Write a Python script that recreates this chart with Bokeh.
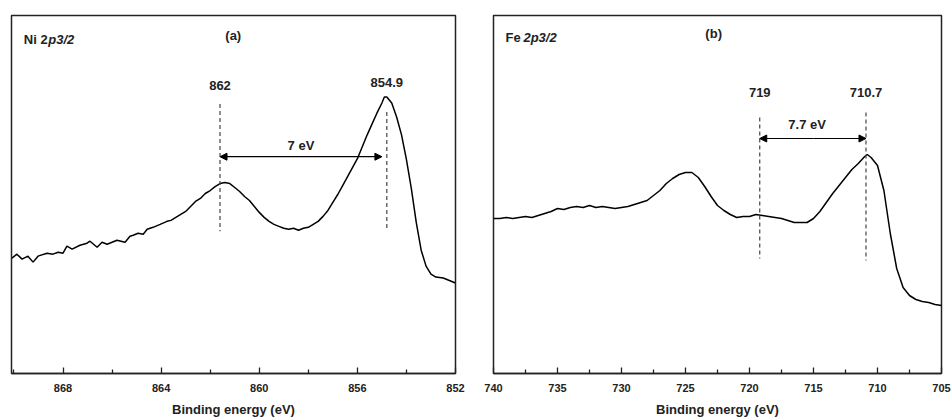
from bokeh.plotting import figure
from bokeh.layouts import row
from bokeh.models import Range1d, FixedTicker, Arrow, NormalHead
from bokeh.core.properties import value
from bokeh.embed import file_html
from bokeh.resources import INLINE

# ---------------- data: Ni 2p3/2 ----------------
ni_energy = [870.08, 869.88, 869.67, 869.43, 869.22, 869.02, 868.65, 868.41, 868.2, 868.0,
             867.84, 867.63, 867.31, 867.02, 866.9, 866.61, 866.41, 866.2, 865.8, 865.47,
             865.27, 865.14, 864.94, 864.73, 864.57, 864.33, 864.04, 863.76,
             863.6, 863.4, 863.2, 863.0, 862.8, 862.6, 862.4, 862.2, 862.0,
             861.8, 861.6, 861.4, 861.2, 861.0, 860.8, 860.6, 860.4, 860.2, 860.0,
             859.8, 859.6, 859.4, 859.2, 859.0, 858.8, 858.6, 858.4, 858.2, 858.0,
             857.8, 857.6, 857.4, 857.2, 857.0, 856.8, 856.6, 856.4, 856.2, 856.0,
             855.8, 855.6, 855.4, 855.2, 855.0, 854.9, 854.8, 854.6, 854.4, 854.2,
             854.0, 853.8, 853.6, 853.4, 853.2, 853.0, 852.8, 852.5, 852.2, 852.0]
ni_intensity = [116, 120, 115, 118, 112, 118, 121, 120, 122, 121,
                128, 125, 129, 131, 133, 127, 132, 130, 134, 132,
                138, 139, 141, 140, 145, 147, 150, 153,
                154, 157, 160, 163, 168, 173, 176, 181, 184,
                188, 191, 192, 191, 187, 183, 178, 174, 168, 162,
                157, 153, 150, 148, 146, 145, 146, 144, 146, 147,
                150, 153, 158, 164, 172, 180, 189, 198, 207, 216,
                228, 240, 251, 262, 272, 278, 278, 272, 258, 240,
                215, 186, 152, 124, 108, 100, 97, 96, 93, 91]

# ---------------- data: Fe 2p3/2 ----------------
fe_energy = [740, 739.5, 739, 738.5, 738, 737.5, 737, 736.5, 736, 735.5, 735,
             734.5, 734, 733.5, 733, 732.5, 732, 731.5, 731, 730.5, 730,
             729.5, 729, 728.5, 728, 727.5, 727, 726.5, 726, 725.5, 725,
             724.5, 724, 723.5, 723, 722.5, 722, 721.5, 721, 720.5, 720,
             719.5, 719, 718.5, 718, 717.5, 717, 716.5, 716, 715.5, 715,
             714.5, 714, 713.5, 713, 712.5, 712, 711.5, 711, 710.8, 710.5,
             710, 709.5, 709, 708.5, 708, 707.5, 707, 706.5, 706, 705.5, 705]
fe_intensity = [155, 155, 156, 155, 156, 157, 156, 158, 160, 162, 165,
                164, 166, 167, 166, 168, 166, 167, 166, 165, 166,
                167, 169, 171, 173, 178, 183, 190, 195, 199, 201,
                201, 196, 187, 177, 168, 163, 159, 156, 157, 157,
                159, 158, 157, 156, 155, 153, 151, 151, 151, 155,
                162, 171, 180, 188, 196, 204, 210, 217, 219, 216,
                208, 183, 140, 105, 86, 78, 74, 72, 71, 69, 68]

ni_ticks = [868, 864, 860, 856, 852]
ni_minor = [870, 866, 862, 858, 854]
fe_ticks = [740, 735, 730, 725, 720, 715, 710, 705]
fe_minor = [737.5, 732.5, 727.5, 722.5, 717.5, 712.5, 707.5]

ni_peaks = [861.6, 854.8]
ni_peak_labels = ["862", "854.9"]
fe_peaks = [719.2, 710.9]
fe_peak_labels = ["719", "710.7"]

FONT = value("Liberation Sans")
INK = "#222222"


def make_fig(xr, yr, width, left, right, top, ticks, minor):
    p = figure(width=width, height=419, x_range=xr, y_range=yr,
               output_backend="svg", toolbar_location=None,
               min_border_left=left, min_border_right=right,
               min_border_top=top, min_border_bottom=419 - 373)
    p.grid.visible = False
    p.yaxis.visible = False
    p.outline_line_color = INK
    p.outline_line_width = 1.5
    p.outline_line_alpha = 1
    ax = p.xaxis[0]
    ax.ticker = FixedTicker(ticks=ticks, minor_ticks=minor)
    ax.major_tick_in = 6
    ax.major_tick_out = 0
    ax.minor_tick_in = 4
    ax.minor_tick_out = 0
    ax.axis_line_color = INK
    ax.axis_line_width = 1.5
    ax.major_tick_line_color = INK
    ax.minor_tick_line_color = INK
    ax.major_tick_line_width = 1.3
    ax.minor_tick_line_width = 1.3
    ax.major_label_text_font = "Liberation Sans"
    ax.major_label_text_font_style = "bold"
    ax.major_label_text_font_size = "11px"
    ax.major_label_text_color = INK
    ax.major_label_standoff = 10
    ax.axis_label = "Binding energy (eV)"
    ax.axis_label_text_font = "Liberation Sans"
    ax.axis_label_text_font_style = "bold"
    ax.axis_label_text_font_size = "13px"
    ax.axis_label_text_color = INK
    ax.axis_label_standoff = 7
    return p


def label(p, x, y, text, style="bold", align="center"):
    p.text(x=x, y=y, text=text, text_font=FONT, text_font_style=style,
           text_font_size="13px", text_align=align, text_baseline="middle",
           text_color=INK)


def arrow(p, xm, x_end, y):
    p.add_layout(Arrow(x_start=xm, y_start=y, x_end=x_end, y_end=y, line_width=1.2,
                       end=NormalHead(size=7, fill_color="black", line_color="black")))


# ---------------- panel (a) ----------------
pa = make_fig(Range1d(870.1, 852), Range1d(0, 360), 475, 11, 20, 13, ni_ticks, ni_minor)
pa.line(ni_energy, ni_intensity, line_color="black", line_width=1.5)
pa.segment(x0=ni_peaks, y0=[271, 263], x1=ni_peaks, y1=[143, 146],
           line_color="#444444", line_width=1.2, line_dash="4 3")
label(pa, ni_peaks, [290, 293], ni_peak_labels)
arrow(pa, 858.3, 861.6, 218)
arrow(pa, 858.3, 855.0, 218)
label(pa, [858.3], [229], ["7 eV"])
label(pa, [869.6], [336], ["Ni 2"], align="left")
label(pa, [868.6], [336], ["p3/2"], style="bold italic", align="left")
label(pa, [861.06], [340], ["(a)"])

# ---------------- panel (b) ----------------
pb = make_fig(Range1d(740, 705), Range1d(0, 358), 476, 18, 10, 15, fe_ticks, fe_minor)
pb.line(fe_energy, fe_intensity, line_color="black", line_width=1.5)
pb.segment(x0=fe_peaks, y0=[256, 261], x1=fe_peaks, y1=[115, 113],
           line_color="#444444", line_width=1.2, line_dash="4 3")
label(pb, fe_peaks, [281, 281], fe_peak_labels)
arrow(pb, 715.0, 719.2, 235)
arrow(pb, 715.0, 710.9, 235)
label(pb, [715.5], [249], ["7.7 eV"])
label(pb, [739.06], [336], ["Fe "], align="left")
label(pb, [737.66], [336], ["2p3/2"], style="bold italic", align="left")
label(pb, [722.8], [340], ["(b)"])

layout = row(pa, pb)
open("out.html", "w").write(file_html(layout, INLINE))
